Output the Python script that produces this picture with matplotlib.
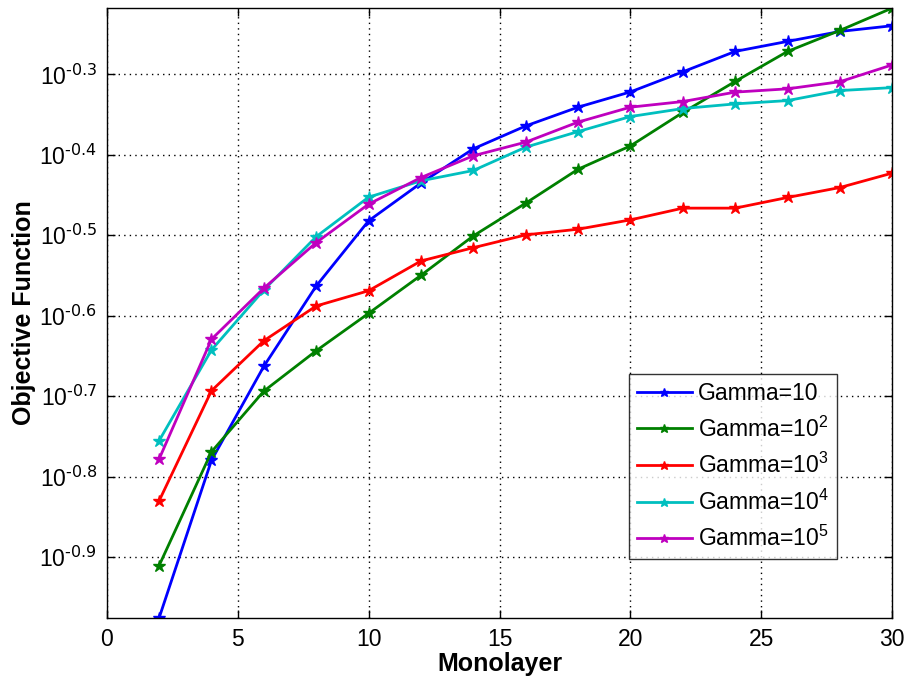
import numpy as np
import matplotlib
matplotlib.use('Agg')
import matplotlib.pyplot as plt
from matplotlib.ticker import FixedLocator, NullLocator

plt.rcParams['font.family'] = ['Liberation Sans', 'DejaVu Sans']
plt.rcParams['mathtext.default'] = 'regular'
plt.rcParams['axes.unicode_minus'] = False

# Monolayer count (x) and objective function values
monolayer = [2, 4, 6, 8, 10, 12, 14, 16, 18, 20, 22, 24, 26, 28, 30]

gamma_1e1 = [0.1057, 0.1660, 0.2173, 0.2735, 0.3296, 0.3673, 0.4051, 0.4325,
             0.4564, 0.4768, 0.5050, 0.5354, 0.5510, 0.5669, 0.5763]
gamma_1e2 = [0.1228, 0.1701, 0.2024, 0.2272, 0.2529, 0.2820, 0.3157, 0.3467,
             0.3821, 0.4085, 0.4495, 0.4913, 0.5354, 0.5686, 0.6063]
gamma_1e3 = [0.1478, 0.2026, 0.2338, 0.2583, 0.2698, 0.2938, 0.3052, 0.3166,
             0.3218, 0.3305, 0.3418, 0.3418, 0.3524, 0.3626, 0.3779]
gamma_1e4 = [0.1756, 0.2277, 0.2704, 0.3150, 0.3527, 0.3696, 0.3807, 0.4070,
             0.4256, 0.4443, 0.4546, 0.4607, 0.4651, 0.4786, 0.4827]
gamma_1e5 = [0.1666, 0.2348, 0.2718, 0.3097, 0.3457, 0.3731, 0.3971, 0.4129,
             0.4373, 0.4564, 0.4638, 0.4765, 0.4810, 0.4909, 0.5152]

series = [gamma_1e1, gamma_1e2, gamma_1e3, gamma_1e4, gamma_1e5]
labels = ['Gamma=10', 'Gamma=10$^2$', 'Gamma=10$^3$', 'Gamma=10$^4$', 'Gamma=10$^5$']
colors = ['#0000ff', '#008000', '#ff0000', '#00bfbf', '#bf00bf']

ytick_exps = [-0.9, -0.8, -0.7, -0.6, -0.5, -0.4, -0.3]
xticks = [0, 5, 10, 15, 20, 25, 30]

fig = plt.figure(figsize=(9.06, 6.83), dpi=100)
ax = fig.add_axes([0.1178, 0.0952, 0.8671, 0.8931])

for vals, lab, col in zip(series, labels, colors):
    ax.plot(monolayer, vals, color=col, lw=2, marker='*', markersize=9, label=lab)

ax.set_yscale('log')
allv = np.concatenate([np.array(s) for s in series])
ax.set_ylim(allv.min(), allv.max())
ax.set_xlim(0, 30)

ax.yaxis.set_major_locator(FixedLocator([10 ** e for e in ytick_exps]))
ax.yaxis.set_minor_locator(NullLocator())
# \text{} keeps the plain hyphen like the original labels
ax.set_yticklabels([r'$10^{\text{%g}}$' % e for e in ytick_exps])
ax.set_xticks(xticks)
ax.set_xticklabels([str(t) for t in xticks])

ax.tick_params(direction='in', length=6, width=1, top=True, right=True,
               labelsize=16.5, colors='black', pad=7)
for sp in ax.spines.values():
    sp.set_linewidth(1)

ax.grid(True, which='major', color='black', linestyle=(0, (1, 3)), linewidth=1)

ax.set_xlabel('Monolayer', fontsize=18, fontweight='bold', labelpad=1)
ax.set_ylabel('Objective Function', fontsize=18, fontweight='bold', labelpad=2)

leg = ax.legend(loc='lower right', bbox_to_anchor=(0.929, 0.096), borderaxespad=0,
                fontsize=16.5, frameon=True, fancybox=False, edgecolor='black',
                handlelength=2.4, handletextpad=0.25, labelspacing=0.5,
                borderpad=0.35, markerscale=0.7)
leg.get_frame().set_linewidth(1)

fig.savefig('out.png', dpi=100)
